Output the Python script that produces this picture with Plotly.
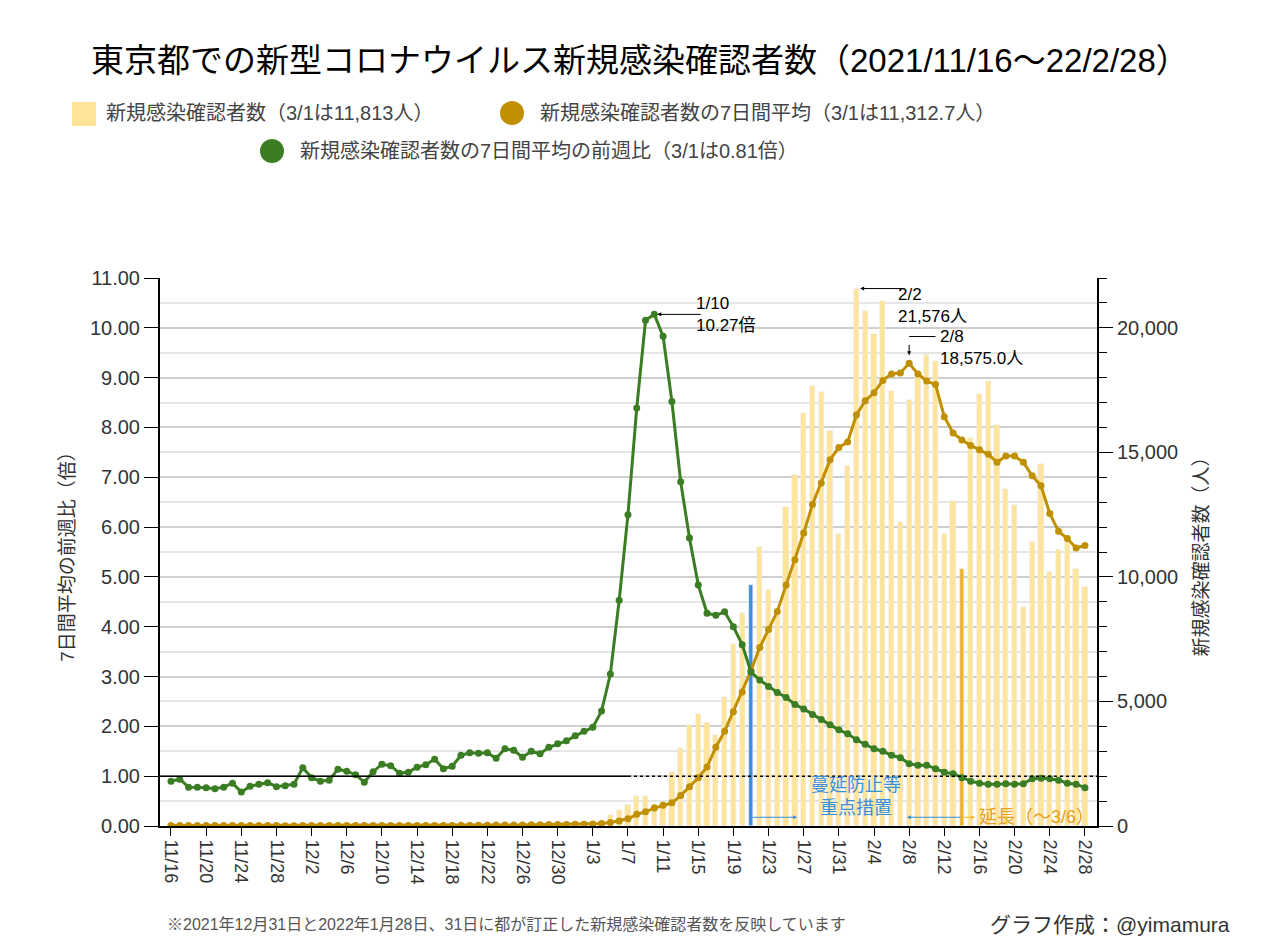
import pandas as pd
import plotly.graph_objects as go

FONT = "Liberation Sans, Noto Sans CJK JP"

dates = pd.date_range("2021-11-16", "2022-02-28", freq="D")

# daily new cases (人)
cases_nov_dec = [21, 8, 24, 18, 15, 7, 9, 20, 14, 24, 18, 13, 16, 11, 9,
                 14, 19, 20, 16, 14, 13, 11, 16, 22, 23, 21, 13, 9, 17, 19,
                 22, 24, 19, 21, 21, 36, 37, 34, 28, 36, 46, 57, 58, 58, 76, 78]
cases_jan = [79, 84, 103, 151, 430, 650, 860, 1220, 1220, 870, 960, 2180, 3120, 4050,
             4510, 4130, 3670, 5160, 7320, 8570, 9690, 11200, 9470, 8500, 12810,
             14090, 16570, 17650, 17430, 15850, 11740]
cases_feb = [14460, 21576, 20690, 19770, 21060, 17480, 12200, 17100, 18190, 18910,
             18680, 11740, 13060, 10300, 15570, 17330, 17860, 16100, 13510, 12880,
             8780, 11410, 14520, 10190, 11080, 11410, 10300, 9610]
cases = cases_nov_dec + cases_jan + cases_feb

# 7-day average (人)
avg_nov_dec = [20, 20, 19, 19, 18, 17, 16, 16, 16, 17, 17, 16, 16, 15, 15,
               16, 16, 16, 16, 16, 16, 16, 17, 17, 18, 18, 18, 18, 18, 19,
               20, 22, 24, 26, 28, 30, 33, 36, 38, 41, 44, 48, 52, 56, 60, 65]
avg_jan = [70, 75, 85, 100, 140, 200, 290, 470, 570, 720, 830, 930, 1220, 1580,
           1940, 2370, 3160, 3800, 4590, 5380, 6240, 7170, 7890, 8610, 9680,
           10690, 11760, 12910, 13770, 14700, 15200]
avg_feb = [15420, 16500, 17070, 17390, 17890, 18150, 18190, 18575, 18145, 17860,
           17720, 16430, 15780, 15500, 15280, 15100, 14920, 14600, 14850, 14850,
           14600, 14060, 13660, 12550, 11830, 11540, 11160, 11260]
avg7 = avg_nov_dec + avg_jan + avg_feb

# week-over-week ratio of the 7-day average (倍)
ratio = [0.90, 0.94, 0.78, 0.78, 0.77, 0.75, 0.78, 0.86, 0.68, 0.80, 0.84, 0.87, 0.79,
         0.81, 0.84, 1.17, 0.97, 0.90, 0.92, 1.14, 1.10, 1.03, 0.88, 1.09, 1.24, 1.21,
         1.06, 1.08, 1.18, 1.23, 1.34, 1.15, 1.20, 1.42, 1.47, 1.46, 1.47, 1.36, 1.55,
         1.52, 1.38, 1.50, 1.45, 1.58, 1.65, 1.71,
         1.81, 1.90, 1.98, 2.31, 3.05, 4.53, 6.25, 8.39, 10.15, 10.27, 9.83, 8.52, 6.91,
         5.78, 4.84, 4.27, 4.23, 4.30, 4.00, 3.64, 3.09, 2.93, 2.80, 2.68, 2.58, 2.44,
         2.35, 2.24, 2.14, 2.03, 1.93,
         1.85, 1.73, 1.64, 1.55, 1.50, 1.42, 1.37, 1.25, 1.22, 1.22, 1.15, 1.08, 1.05,
         0.97, 0.90, 0.86, 0.84, 0.84, 0.85, 0.84, 0.85, 0.95, 0.96, 0.95, 0.92, 0.86,
         0.84, 0.77]

tick_dates = pd.date_range("2021-11-16", "2022-02-28", freq="4D")
tick_labels = [f"{d.month}/{d.day}" for d in tick_dates]

BAR = "#ffe499"
GOLD = "#c09000"
GREEN = "#3a7d22"
BLUE = "#3a8fd9"
ORANGE = "#f0b428"

bar_colors = [BAR] * len(dates)
bar_widths = [0.6 * 86400000] * len(dates)
i_blue = list(dates).index(pd.Timestamp("2022-01-21"))
i_orange = list(dates).index(pd.Timestamp("2022-02-14"))
bar_colors[i_blue] = BLUE
bar_colors[i_orange] = ORANGE
bar_widths[i_blue] = 0.45 * 86400000
bar_widths[i_orange] = 0.45 * 86400000

# cases on "y" (right side), ratio on "y2" (left side, drawn on top)
fig = go.Figure()
fig.add_trace(go.Bar(x=dates, y=cases, yaxis="y", marker_color=bar_colors,
                     width=bar_widths, showlegend=False))
fig.add_trace(go.Scatter(x=dates, y=avg7, yaxis="y", mode="lines+markers",
                         line=dict(color=GOLD, width=3), marker=dict(size=7, color=GOLD),
                         showlegend=False))
fig.add_trace(go.Scatter(x=dates, y=ratio, yaxis="y2", mode="lines+markers",
                         line=dict(color=GREEN, width=3), marker=dict(size=7, color=GREEN),
                         showlegend=False))

x0 = pd.Timestamp("2021-11-14 18:00")
x1 = pd.Timestamp("2022-03-01 09:00")

# page has an 8px body margin; margins below place the plot area at
# x 160..1097, y 278..826 in the screenshot
W, H = 1280, 950
OFF = 8
ML, MR, MT, MB = 160 - OFF, 183 + OFF, 278 - OFF, 124 + OFF


def px(x, y):
    x -= OFF
    y -= OFF
    return (x - ML) / (W - ML - MR), (H - MB - y) / (H - MT - MB)


# 1.00 reference line: solid then dotted
fig.add_shape(type="line", x0=x0, x1=pd.Timestamp("2022-01-07"), y0=1, y1=1, yref="y2",
              line=dict(color="black", width=1.5), layer="above")
fig.add_shape(type="line", x0=pd.Timestamp("2022-01-07"), x1=x1, y0=1, y1=1, yref="y2",
              line=dict(color="black", width=1.5, dash="dot"), layer="above")

annos = []
# peak ratio
annos.append(dict(x=pd.Timestamp("2022-01-10 08:00"), y=10.27, yref="y2", ax=45, ay=0,
                  text="", showarrow=True, arrowhead=2, arrowsize=0.8, arrowwidth=1,
                  arrowcolor="black"))
annos.append(dict(x=pd.Timestamp("2022-01-14 12:00"), y=10.27, yref="y2",
                  text="1/10<br>10.27倍", xanchor="left", yanchor="middle",
                  showarrow=False, align="left", font=dict(size=17, color="black")))
# peak cases
annos.append(dict(x=pd.Timestamp("2022-02-02 10:00"), y=21576, ax=45, ay=0,
                  text="", showarrow=True, arrowhead=2, arrowsize=0.8, arrowwidth=1,
                  arrowcolor="black"))
annos.append(dict(x=pd.Timestamp("2022-02-06 12:00"), y=20900,
                  text="2/2<br>21,576人", xanchor="left", yanchor="middle",
                  showarrow=False, align="left", font=dict(size=17, color="black")))
# peak avg
annos.append(dict(x=pd.Timestamp("2022-02-08"), y=18900, ax=0, ay=-12,
                  text="", showarrow=True, arrowhead=2, arrowsize=0.8, arrowwidth=1,
                  arrowcolor="black"))
fig.add_shape(type="line", x0=pd.Timestamp("2022-02-08"), x1=pd.Timestamp("2022-02-11"),
              y0=19650, y1=19650, line=dict(color="black", width=1))
annos.append(dict(x=pd.Timestamp("2022-02-11 06:00"), y=19200,
                  text="2/8<br>18,575.0人", xanchor="left", yanchor="middle",
                  showarrow=False, align="left", font=dict(size=17, color="black")))
# measures
annos.append(dict(x=pd.Timestamp("2022-02-02"), y=1200, yanchor="middle",
                  text="蔓延防止等<br>重点措置", showarrow=False, align="center",
                  font=dict(size=18, color=BLUE)))
annos.append(dict(x=pd.Timestamp("2022-01-26 06:00"), y=350,
                  ax=pd.Timestamp("2022-01-21"), ay=350, axref="x", ayref="y",
                  text="", showarrow=True, arrowhead=2, arrowsize=0.8, arrowwidth=1,
                  arrowcolor=BLUE))
annos.append(dict(x=pd.Timestamp("2022-02-07 18:00"), y=350,
                  ax=pd.Timestamp("2022-02-14"), ay=350, axref="x", ayref="y",
                  text="", showarrow=True, arrowhead=2, arrowsize=0.8, arrowwidth=1,
                  arrowcolor=BLUE))
annos.append(dict(x=pd.Timestamp("2022-02-15 12:00"), y=350,
                  ax=pd.Timestamp("2022-02-14"), ay=350, axref="x", ayref="y",
                  text="", showarrow=True, arrowhead=2, arrowsize=0.8, arrowwidth=1,
                  arrowcolor=ORANGE))
annos.append(dict(x=pd.Timestamp("2022-02-15 18:00"), y=350,
                  text="延長（～3/6）", xanchor="left", showarrow=False,
                  font=dict(size=18, color="#e8a020")))

top_texts = [
    (640, 60, "東京都での新型コロナウイルス新規感染確認者数（2021/11/16～22/2/28）", 33, "black", "center"),
    (104, 113, "新規感染確認者数（3/1は11,813人）", 20, "#444", "left"),
    (538, 113, "新規感染確認者数の7日間平均（3/1は11,312.7人）", 20, "#444", "left"),
    (298, 151, "新規感染確認者数の7日間平均の前週比（3/1は0.81倍）", 20, "#444", "left"),
    (165, 924, "※2021年12月31日と2022年1月28日、31日に都が訂正した新規感染確認者数を反映しています",
     16, "#555", "left"),
    (988, 924, "グラフ作成：@yimamura", 21, "#333", "left"),
]
for tx, ty, text, size, color, anchor in top_texts:
    ax_, ay_ = px(tx, ty)
    annos.append(dict(x=ax_, y=ay_, xref="paper", yref="paper", text=text,
                      showarrow=False, xanchor=anchor, yanchor="middle",
                      font=dict(size=size, color=color)))

# legend symbols
lx0, ly0 = px(72, 102)
lx1, ly1 = px(96, 126)
fig.add_shape(type="rect", xref="paper", yref="paper", x0=lx0, y0=ly1, x1=lx1, y1=ly0,
              fillcolor=BAR, line=dict(width=0))
for cx, cy, col in [(512, 113, GOLD), (272, 151, GREEN)]:
    a0, b0 = px(cx - 12, cy - 12)
    a1, b1 = px(cx + 12, cy + 12)
    fig.add_shape(type="circle", xref="paper", yref="paper", x0=a0, y0=b1, x1=a1, y1=b0,
                  fillcolor=col, line=dict(width=0))

fig.update_layout(
    width=W, height=H,
    margin=dict(l=ML, r=MR, t=MT, b=MB),
    plot_bgcolor="white", paper_bgcolor="white",
    font=dict(family=FONT, size=20, color="#333"),
    bargap=0,
    annotations=annos,
    xaxis=dict(range=[x0, x1], tickvals=list(tick_dates), ticktext=tick_labels,
               tickangle=90, showgrid=False, showline=True, linecolor="black",
               linewidth=2, ticks="outside", ticklen=8, tickcolor="black",
               tickfont=dict(size=18, color="#333")),
    yaxis=dict(range=[0, 22000], dtick=5000, tickformat=",d", side="right",
               showgrid=False, showline=True, linecolor="black",
               linewidth=2, ticks="outside", ticklen=14, tickcolor="black",
               minor=dict(dtick=1000, ticks="outside", ticklen=8, tickcolor="black"),
               zeroline=False,
               title=dict(text="新規感染確認者数（人）", font=dict(size=19, color="#333"),
                          standoff=18)),
    yaxis2=dict(range=[0, 11], dtick=1, tickformat=".2f", overlaying="y", side="left",
                showgrid=True, gridcolor="#cfcfcf", gridwidth=1.5, showline=True,
                linecolor="black", linewidth=2, ticks="outside", ticklen=14,
                tickcolor="black",
                minor=dict(dtick=0.5, showgrid=True, gridcolor="#e6e6e6", ticks=""),
                zeroline=False,
                title=dict(text="7日間平均の前週比（倍）", font=dict(size=19, color="#333"),
                           standoff=10)),
)

fig.write_html("out.html")
